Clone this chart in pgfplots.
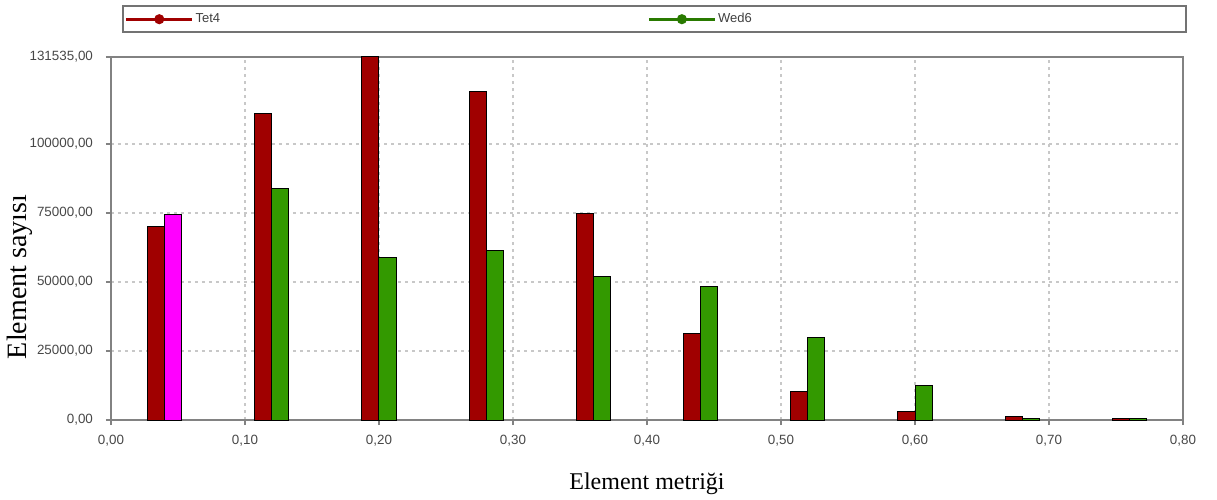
\documentclass[border=0pt]{standalone}
\usepackage{fontspec}
\setmainfont{Liberation Sans}
\newfontfamily\serifl{Liberation Serif}
\usepackage{pgfplots}
\pgfplotsset{compat=1.18}
\definecolor{tetred}{RGB}{160,0,0}
\definecolor{wedgreen}{RGB}{51,153,0}
\definecolor{wedmag}{RGB}{255,0,255}
\definecolor{gridc}{RGB}{200,200,200}
\definecolor{axc}{RGB}{130,130,130}
\begin{document}
\begin{tikzpicture}
\begin{axis}[
  scale only axis,
  width=536pt, height=181.5pt,
  xmin=0, xmax=0.8, ymin=0, ymax=131535,
  xtick={0,0.1,...,0.8},
  ytick={0,25000,50000,75000,100000,131535},
  scaled ticks=false,
  /pgf/number format/.cd, fixed, fixed zerofill, precision=2, use comma, 1000 sep={}, assume math mode=true,
  /pgfplots/.cd,
  tick label style={font=\fontsize{6.7}{8}\selectfont, text=black!72},
  yticklabel style={xshift=-3pt},
  xticklabel style={yshift=-1.5pt},
  xtick pos=left, ytick pos=left,
  tick align=outside, major tick length=2.5pt,
  tick style={axc, line width=0.6pt},
  axis line style={axc, line width=0.9pt},
  grid=major,
  major grid style={gridc, line width=0.8pt, dash pattern=on 1.5pt off 2pt},
  ybar,
  bar width=0.0128,
  xlabel={Element metriği},
  ylabel={Element sayısı},
  x label style={font=\serifl\fontsize{12}{14}\selectfont, at={(axis description cs:0.5,0)}, anchor=base, yshift=-34.5pt},
  y label style={font=\serifl\fontsize{14}{16}\selectfont, at={(axis description cs:-0.079,0.394)}, anchor=base},
  legend image code/.code={\draw[#1, line width=1.3pt] (0pt,0pt) -- (33pt,0pt); \fill[#1] (16.5pt,0pt) circle (2pt);},
  legend columns=2,
  legend style={at={(axis description cs:0,1)}, anchor=north west, xshift=5.5pt, yshift=26pt,
    draw=black!55, line width=1pt, fill=white, inner xsep=1pt, inner ysep=2.5pt,
    font=\fontsize{6.5}{8}\selectfont, text=black!75,
    nodes={text width=225pt, align=left, inner sep=1pt, anchor=west}},
]
\addlegendimage{tetred}
\addlegendentry{Tet4}
\addlegendimage{wedgreen!80!black}
\addlegendentry[text width=232pt]{Wed6}

\addplot[forget plot, fill=tetred, draw=black, line width=0.5pt, bar shift=-0.0064] coordinates {
 (0.04,70000) (0.12,111200) (0.20,131535) (0.28,118900) (0.36,75000)
 (0.44,31500) (0.52,10300) (0.60,3200) (0.68,1100) (0.76,500)};
\addplot[forget plot, fill=wedgreen, draw=black, line width=0.5pt, bar shift=0.0064] coordinates {
 (0.12,84000) (0.20,59000) (0.28,61300) (0.36,52000)
 (0.44,48300) (0.52,29800) (0.60,12500) (0.68,400) (0.76,400)};
\addplot[forget plot, fill=wedmag, draw=black, line width=0.5pt, bar shift=0.0064] coordinates {
 (0.04,74600)};
\end{axis}
\pgfresetboundingbox
\path[use as bounding box] (-55.5pt,-39.5pt) rectangle (553pt,210pt);
\end{tikzpicture}
\end{document}
